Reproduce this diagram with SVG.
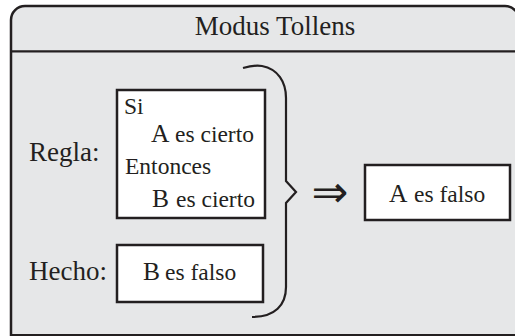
<svg xmlns="http://www.w3.org/2000/svg" width="515" height="336" viewBox="0 0 515 336">
  <style>
    .frame { fill: #e6e7e8; stroke: #231f20; stroke-width: 2.5; }
    .box { fill: #ffffff; stroke: #231f20; stroke-width: 2.5; }
    .line { fill: none; stroke: #231f20; stroke-width: 2.2; }
    text { font-family: 'Liberation Serif', 'Times New Roman', 'DejaVu Serif', serif; fill: #231f20; }
    .big { font-size: 27px; }
    .var { font-size: 25.5px; }
    .small { font-size: 23.5px; }
    .sym { font-family: 'DejaVu Sans', sans-serif; font-size: 44px; }
  </style>

  <!-- outer panel with header strip -->
  <g id="panel">
    <path class="frame" d="M11,336 V20 A14,14 0 0 1 25,6 H505 A14,14 0 0 1 519,20 V336"/>
    <line class="line" x1="11" y1="335" x2="515" y2="335" stroke-width="2.5"/>
    <line class="line" x1="11" y1="51.3" x2="515" y2="51.3" stroke-width="2.5"/>
    <text class="big" x="275" y="35" text-anchor="middle">Modus Tollens</text>
  </g>

  <!-- premise labels -->
  <g id="label-regla">
    <text class="big" x="29" y="161">Regla:</text>
  </g>
  <g id="label-hecho">
    <text class="big" x="29" y="280">Hecho:</text>
  </g>

  <!-- rule box -->
  <g id="regla">
    <rect class="box" x="117" y="90" width="148" height="128"/>
    <text class="small" x="124" y="114">Si</text>
    <text x="151" y="142"><tspan class="var">A</tspan><tspan class="small" x="175">es cierto</tspan></text>
    <text class="small" x="125" y="174">Entonces</text>
    <text x="152" y="207"><tspan class="var">B</tspan><tspan class="small" x="176">es cierto</tspan></text>
  </g>

  <!-- fact box -->
  <g id="hecho">
    <rect class="box" x="117" y="245" width="146" height="57"/>
    <text x="143" y="280"><tspan class="var">B</tspan><tspan class="small" x="165">es falso</tspan></text>
  </g>

  <!-- conclusion box -->
  <g id="conclusion">
    <rect class="box" x="365" y="165" width="145" height="55"/>
    <text x="389" y="202"><tspan class="var">A</tspan><tspan class="small" x="414">es falso</tspan></text>
  </g>

  <!-- brace grouping the premises and the implication sign -->
  <g id="connectors">
    <path class="line" d="M243,68 C250,66 256,65 262,66 C278,69 286,82 286,98 V181 L296,192 L286,203 V287 C286,305 275,317 252,317"/>
    <text class="sym" x="330" y="207" text-anchor="middle">⇒</text>
  </g>
</svg>
